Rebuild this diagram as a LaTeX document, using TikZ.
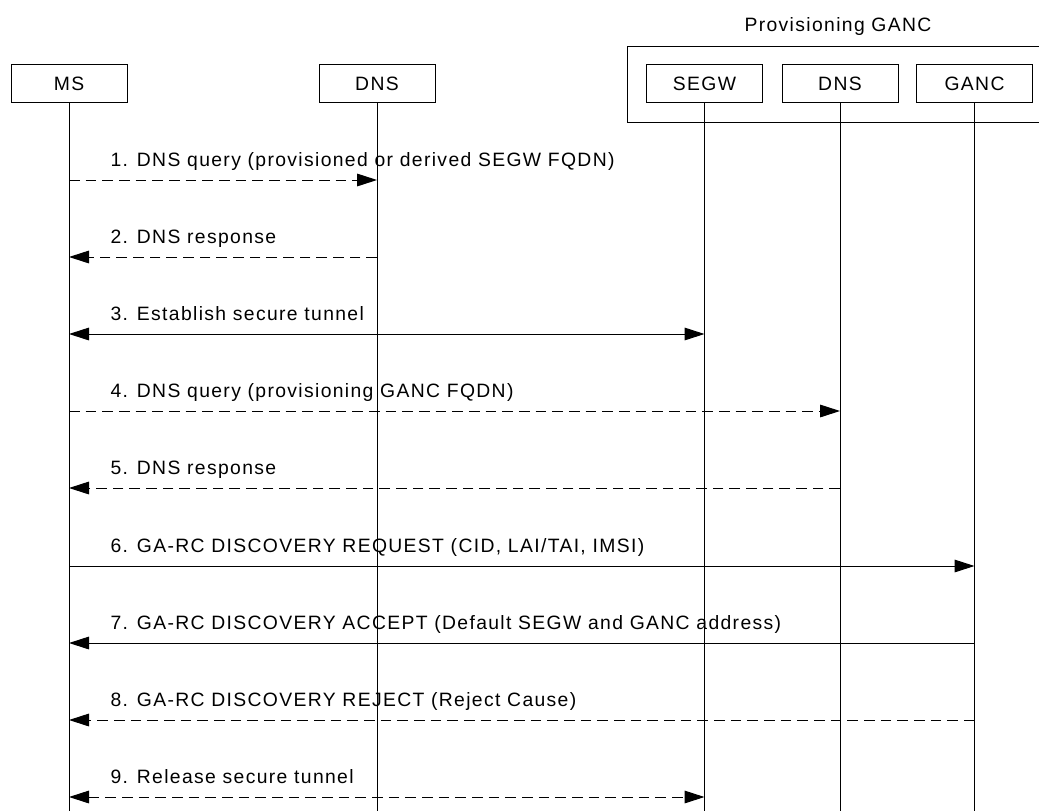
\documentclass[tikz,border=0pt]{standalone}
\usepackage{fontspec}
\setmainfont{Liberation Sans}[LetterSpace=7]
\usetikzlibrary{arrows.meta}
\begin{document}
\begin{tikzpicture}[x=0.75pt,y=-0.75pt,line width=0.75pt,
  font=\fontsize{14.5}{17}\selectfont,
  entity/.style={draw,minimum width=87pt,minimum height=29pt,inner sep=0pt},
  req/.style={-{Triangle[length=15pt,width=9.5pt]}},
  reqd/.style={req,dash pattern=on 8pt off 4.5pt},
  both/.style={{Triangle[length=15pt,width=9.5pt]}-{Triangle[length=15pt,width=9.5pt]}},
  bothd/.style={both,dash pattern=on 8pt off 4.5pt}]
  \useasboundingbox (0,0) rectangle (1039,811);
  \node[anchor=base] (prov) at (838,31) {Provisioning GANC};
  \draw (1039,46) -- (627,46) -- (627,122) -- (1039,122);
  \node[entity] (ms) at (69,83.5) {MS};
  \node[entity] (dns) at (377,83.5) {DNS};
  \node[entity] (segw) at (704.5,83.5) {SEGW};
  \node[entity] (pdns) at (840,83.5) {DNS};
  \node[entity] (ganc) at (974.5,83.5) {GANC};
  \foreach \n in {ms,dns,segw,pdns,ganc}
    \draw (\n.south) -- (\n |- 0,811);
  \foreach \y/\a/\b/\s/\t in {
      180/ms/dns/reqd/{1. DNS query (provisioned or derived SEGW FQDN)},
      257/dns/ms/reqd/{2. DNS response},
      334/ms/segw/both/{3. Establish secure tunnel},
      411/ms/pdns/reqd/{4. DNS query (provisioning GANC FQDN)},
      488/pdns/ms/reqd/{5. DNS response},
      566/ms/ganc/req/{6. GA-RC DISCOVERY REQUEST (CID, LAI/TAI, IMSI)},
      643/ganc/ms/req/{7. GA-RC DISCOVERY ACCEPT (Default SEGW and GANC address)},
      720/ganc/ms/reqd/{8. GA-RC DISCOVERY REJECT (Reject Cause)},
      797/ms/segw/bothd/{9. Release secure tunnel}} {
    \draw[\s] (\a |- 0,\y) -- (\b |- 0,\y);
    \node[anchor=base west,inner sep=0pt] at (110,\y-14) {\t};
  }
\end{tikzpicture}
\end{document}
